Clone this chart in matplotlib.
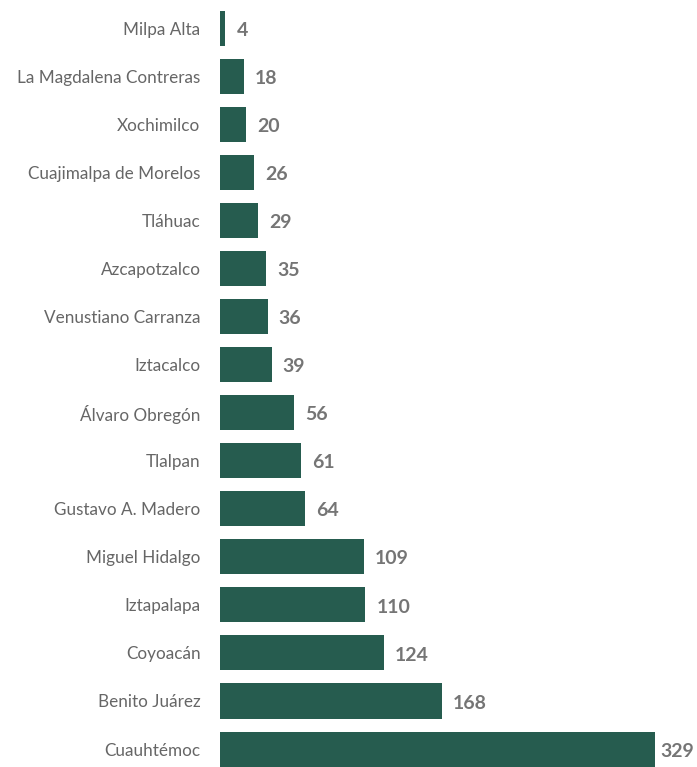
import matplotlib
matplotlib.use('Agg')
import matplotlib.pyplot as plt

plt.rcParams['font.family'] = ['Lato', 'DejaVu Sans']

# datos por alcaldía
alcaldias = ['Milpa Alta', 'La Magdalena Contreras', 'Xochimilco', 'Cuajimalpa de Morelos',
             'Tláhuac', 'Azcapotzalco', 'Venustiano Carranza', 'Iztacalco', 'Álvaro Obregón',
             'Tlalpan', 'Gustavo A. Madero', 'Miguel Hidalgo', 'Iztapalapa', 'Coyoacán',
             'Benito Juárez', 'Cuauhtémoc']
valores = [4, 18, 20, 26, 29, 35, 36, 39, 56, 61, 64, 109, 110, 124, 168, 329]

color_barra = '#265c4f'

fig = plt.figure(figsize=(6.97, 7.67), dpi=100)
ax = fig.add_axes([220 / 697, 0, 477 / 697, 1])

y = list(range(len(alcaldias)))
bars = ax.barh(y, valores, height=0.73, color=color_barra)

vmax = max(valores)
for bar, v in zip(bars, valores):
    # la etiqueta de la barra más larga se acerca para que quepa
    dx = 4 if v == vmax else 8
    ax.annotate(f'{v}', xy=(bar.get_width(), bar.get_y() + bar.get_height() / 2),
                xytext=(dx, -1.5), textcoords='offset points', ha='left', va='center',
                fontsize=14, fontweight='bold', color='#757575')

ax.set_yticks(y)
ax.set_yticklabels(alcaldias, fontsize=12.3, color='#666666')
ax.tick_params(axis='y', length=0, pad=14)
ax.set_xticks([])
ax.set_xlim(0, 360.8)
ax.set_ylim(15.374, -0.593)
for s in ax.spines.values():
    s.set_visible(False)

fig.savefig('out.png', dpi=100, facecolor='white')
